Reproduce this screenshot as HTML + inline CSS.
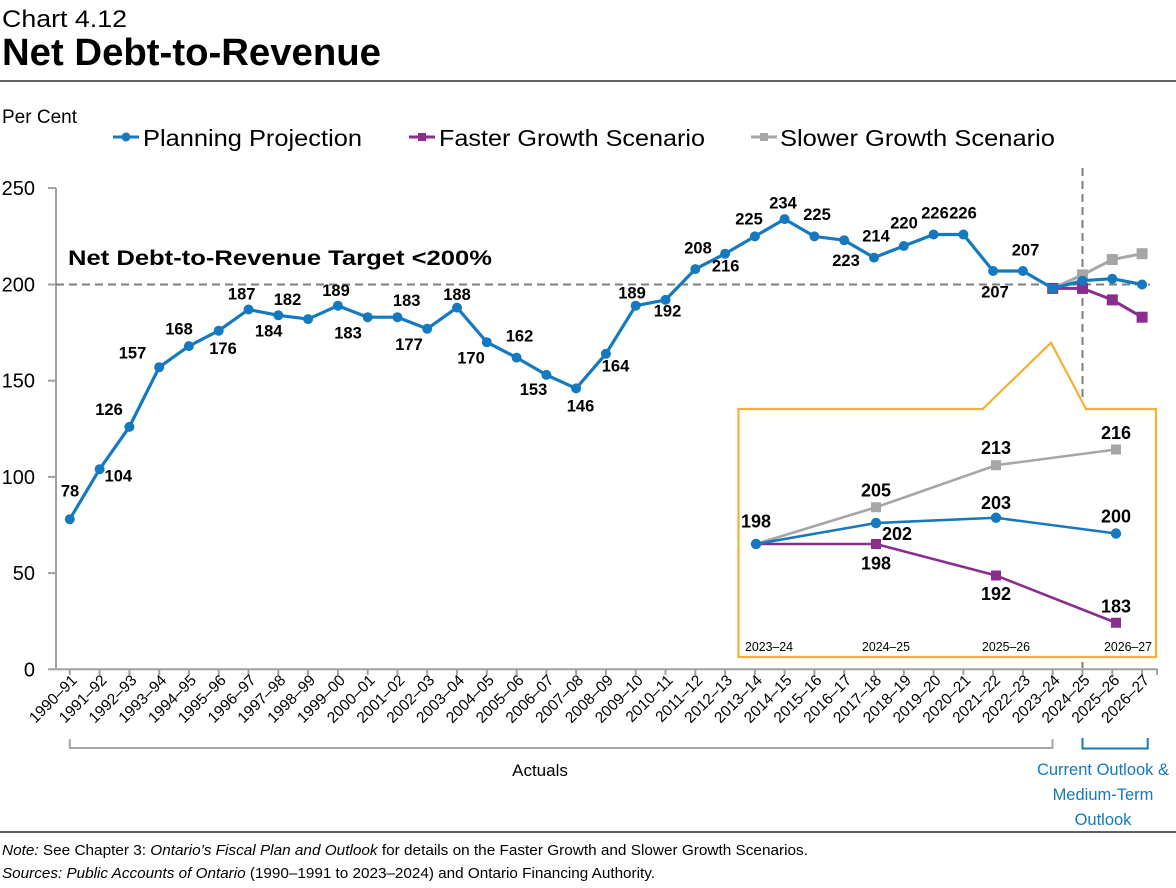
<!DOCTYPE html>
<html><head><meta charset="utf-8"><style>
html,body{margin:0;padding:0;background:#fff;}
svg{display:block;font-family:"Liberation Sans",Arial,sans-serif;}
.lb{font-weight:bold;font-size:16.5px;text-anchor:middle;fill:#000;}
.il{font-weight:bold;font-size:18px;text-anchor:middle;fill:#000;}
.xl{font-size:15.5px;text-anchor:end;dominant-baseline:central;fill:#000;}
.yl{font-size:20px;text-anchor:end;fill:#000;}
</style></head><body>
<svg width="1176" height="888" viewBox="0 0 1176 888" xmlns="http://www.w3.org/2000/svg">
<rect width="1176" height="888" fill="#fff"/>
<!-- Titles -->
<text x="2" y="27" font-size="24" textLength="125" lengthAdjust="spacingAndGlyphs">Chart 4.12</text>
<text x="2" y="65" font-size="38" font-weight="bold" textLength="379" lengthAdjust="spacingAndGlyphs">Net Debt-to-Revenue</text>
<line x1="0" y1="81" x2="1176" y2="81" stroke="#000" stroke-width="1.3"/>
<text x="2" y="123" font-size="19" textLength="75" lengthAdjust="spacingAndGlyphs">Per Cent</text>

<!-- Legend -->
<line x1="113" y1="137" x2="139" y2="137" stroke="#1479BE" stroke-width="3"/>
<circle cx="126" cy="137" r="4.5" fill="#1479BE"/>
<text x="143" y="146" font-size="23" textLength="219" lengthAdjust="spacingAndGlyphs">Planning Projection</text>
<line x1="409" y1="137" x2="435" y2="137" stroke="#8B2C8F" stroke-width="3"/>
<rect x="418" y="133" width="8" height="8" fill="#8B2C8F"/>
<text x="439" y="146" font-size="23" textLength="266" lengthAdjust="spacingAndGlyphs">Faster Growth Scenario</text>
<line x1="751" y1="137" x2="777" y2="137" stroke="#A6A6A6" stroke-width="3"/>
<rect x="760" y="133" width="8" height="8" fill="#A6A6A6"/>
<text x="780" y="146" font-size="23" textLength="275" lengthAdjust="spacingAndGlyphs">Slower Growth Scenario</text>

<!-- Y axis -->
<line x1="56" y1="188" x2="56" y2="669.3" stroke="#A0A0A0" stroke-width="2"/>
<g stroke="#A0A0A0" stroke-width="2">
<line x1="48" y1="188" x2="56" y2="188"/>
<line x1="48" y1="284.5" x2="56" y2="284.5"/>
<line x1="48" y1="380.7" x2="56" y2="380.7"/>
<line x1="48" y1="476.9" x2="56" y2="476.9"/>
<line x1="48" y1="573.1" x2="56" y2="573.1"/>
</g>
<text class="yl" x="35" y="195">250</text>
<text class="yl" x="35" y="291.5">200</text>
<text class="yl" x="35" y="387.7">150</text>
<text class="yl" x="35" y="483.9">100</text>
<text class="yl" x="35" y="580.1">50</text>
<text class="yl" x="35" y="676.3">0</text>

<!-- X axis -->
<line x1="48" y1="669.3" x2="1157" y2="669.3" stroke="#A0A0A0" stroke-width="2"/>
<path stroke="#A0A0A0" stroke-width="2" d="M69.8 669v6M99.6 669v6M129.4 669v6M159.2 669v6M188.9 669v6M218.7 669v6M248.5 669v6M278.3 669v6M308.1 669v6M337.9 669v6M367.7 669v6M397.4 669v6M427.2 669v6M457 669v6M486.8 669v6M516.6 669v6M546.4 669v6M576.1 669v6M605.9 669v6M635.7 669v6M665.5 669v6M695.3 669v6M725.1 669v6M754.9 669v6M784.6 669v6M814.4 669v6M844.2 669v6M874 669v6M903.8 669v6M933.6 669v6M963.4 669v6M993.1 669v6M1022.9 669v6M1052.7 669v6M1082.5 669v6M1112.3 669v6M1142.1 669v6M1157 669v6"/>

<g class="xl">
<text class="xl" transform="translate(74.8,678) rotate(-45)">1990–91</text>
<text class="xl" transform="translate(104.6,678) rotate(-45)">1991–92</text>
<text class="xl" transform="translate(134.4,678) rotate(-45)">1992–93</text>
<text class="xl" transform="translate(164.2,678) rotate(-45)">1993–94</text>
<text class="xl" transform="translate(193.9,678) rotate(-45)">1994–95</text>
<text class="xl" transform="translate(223.7,678) rotate(-45)">1995–96</text>
<text class="xl" transform="translate(253.5,678) rotate(-45)">1996–97</text>
<text class="xl" transform="translate(283.3,678) rotate(-45)">1997–98</text>
<text class="xl" transform="translate(313.1,678) rotate(-45)">1998–99</text>
<text class="xl" transform="translate(342.9,678) rotate(-45)">1999–00</text>
<text class="xl" transform="translate(372.7,678) rotate(-45)">2000–01</text>
<text class="xl" transform="translate(402.4,678) rotate(-45)">2001–02</text>
<text class="xl" transform="translate(432.2,678) rotate(-45)">2002–03</text>
<text class="xl" transform="translate(462,678) rotate(-45)">2003–04</text>
<text class="xl" transform="translate(491.8,678) rotate(-45)">2004–05</text>
<text class="xl" transform="translate(521.6,678) rotate(-45)">2005–06</text>
<text class="xl" transform="translate(551.4,678) rotate(-45)">2006–07</text>
<text class="xl" transform="translate(581.1,678) rotate(-45)">2007–08</text>
<text class="xl" transform="translate(610.9,678) rotate(-45)">2008–09</text>
<text class="xl" transform="translate(640.7,678) rotate(-45)">2009–10</text>
<text class="xl" transform="translate(670.5,678) rotate(-45)">2010–11</text>
<text class="xl" transform="translate(700.3,678) rotate(-45)">2011–12</text>
<text class="xl" transform="translate(730.1,678) rotate(-45)">2012–13</text>
<text class="xl" transform="translate(759.9,678) rotate(-45)">2013–14</text>
<text class="xl" transform="translate(789.6,678) rotate(-45)">2014–15</text>
<text class="xl" transform="translate(819.4,678) rotate(-45)">2015–16</text>
<text class="xl" transform="translate(849.2,678) rotate(-45)">2016–17</text>
<text class="xl" transform="translate(879,678) rotate(-45)">2017–18</text>
<text class="xl" transform="translate(908.8,678) rotate(-45)">2018–19</text>
<text class="xl" transform="translate(938.6,678) rotate(-45)">2019–20</text>
<text class="xl" transform="translate(968.4,678) rotate(-45)">2020–21</text>
<text class="xl" transform="translate(998.1,678) rotate(-45)">2021–22</text>
<text class="xl" transform="translate(1027.9,678) rotate(-45)">2022–23</text>
<text class="xl" transform="translate(1057.7,678) rotate(-45)">2023–24</text>
<text class="xl" transform="translate(1087.5,678) rotate(-45)">2024–25</text>
<text class="xl" transform="translate(1117.3,678) rotate(-45)">2025–26</text>
<text class="xl" transform="translate(1147.1,678) rotate(-45)">2026–27</text>
</g>

<!-- Reference lines -->
<line x1="56" y1="284.5" x2="1150" y2="284.5" stroke="#7F7F7F" stroke-width="2" stroke-dasharray="8,5"/>
<line x1="1082.5" y1="168" x2="1082.5" y2="668" stroke="#7F7F7F" stroke-width="2" stroke-dasharray="8,5"/>
<text x="68" y="265" font-size="21" font-weight="bold" textLength="424" lengthAdjust="spacingAndGlyphs">Net Debt-to-Revenue Target &lt;200%</text>

<!-- Scenario series (main) -->
<polyline fill="none" stroke="#A6A6A6" stroke-width="3" points="1052.7,288.4 1082.5,274.9 1112.3,259.5 1142.1,253.7"/>
<g fill="#A6A6A6">
<rect x="1077" y="269.4" width="11" height="11"/>
<rect x="1106.8" y="254" width="11" height="11"/>
<rect x="1136.6" y="248.2" width="11" height="11"/>
</g>
<polyline fill="none" stroke="#8B2C8F" stroke-width="3" points="1052.7,288.4 1082.5,288.4 1112.3,299.9 1142.1,317.2"/>
<g fill="#8B2C8F">
<rect x="1047.2" y="282.9" width="11" height="11"/>
<rect x="1077" y="282.9" width="11" height="11"/>
<rect x="1106.8" y="294.4" width="11" height="11"/>
<rect x="1136.6" y="311.7" width="11" height="11"/>
</g>

<!-- Planning projection -->
<polyline fill="none" stroke="#1479BE" stroke-width="3.2" stroke-linejoin="round" points="69.8,519.2 99.6,469.2 129.4,426.9 159.2,367.2 188.9,346.1 218.7,330.7 248.5,309.5 278.3,315.3 308.1,319.1 337.9,305.7 367.7,317.2 397.4,317.2 427.2,328.8 457,307.6 486.8,342.2 516.6,357.6 546.4,374.9 576.1,388.4 605.9,353.8 635.7,305.7 665.5,299.9 695.3,269.1 725.1,253.7 754.9,236.4 784.6,219.1 814.4,236.4 844.2,240.2 874,257.6 903.8,246 933.6,234.5 963.4,234.5 993.1,271 1022.9,271 1052.7,288.4 1082.5,280.7 1112.3,278.7 1142.1,284.5"/>
<g fill="#1479BE">
<circle cx="69.8" cy="519.2" r="5"/><circle cx="99.6" cy="469.2" r="5"/><circle cx="129.4" cy="426.9" r="5"/><circle cx="159.2" cy="367.2" r="5"/><circle cx="188.9" cy="346.1" r="5"/><circle cx="218.7" cy="330.7" r="5"/><circle cx="248.5" cy="309.5" r="5"/><circle cx="278.3" cy="315.3" r="5"/><circle cx="308.1" cy="319.1" r="5"/><circle cx="337.9" cy="305.7" r="5"/><circle cx="367.7" cy="317.2" r="5"/><circle cx="397.4" cy="317.2" r="5"/><circle cx="427.2" cy="328.8" r="5"/><circle cx="457" cy="307.6" r="5"/><circle cx="486.8" cy="342.2" r="5"/><circle cx="516.6" cy="357.6" r="5"/><circle cx="546.4" cy="374.9" r="5"/><circle cx="576.1" cy="388.4" r="5"/><circle cx="605.9" cy="353.8" r="5"/><circle cx="635.7" cy="305.7" r="5"/><circle cx="665.5" cy="299.9" r="5"/><circle cx="695.3" cy="269.1" r="5"/><circle cx="725.1" cy="253.7" r="5"/><circle cx="754.9" cy="236.4" r="5"/><circle cx="784.6" cy="219.1" r="5"/><circle cx="814.4" cy="236.4" r="5"/><circle cx="844.2" cy="240.2" r="5"/><circle cx="874" cy="257.6" r="5"/><circle cx="903.8" cy="246" r="5"/><circle cx="933.6" cy="234.5" r="5"/><circle cx="963.4" cy="234.5" r="5"/><circle cx="993.1" cy="271" r="5"/><circle cx="1022.9" cy="271" r="5"/>
<rect x="1048.2" y="283.9" width="9" height="9"/>
<circle cx="1082.5" cy="280.7" r="5"/><circle cx="1112.3" cy="278.7" r="5"/><circle cx="1142.1" cy="284.5" r="5"/>
</g>

<!-- Data labels -->
<g class="lb">
<text class="lb" x="70" y="496.7">78</text>
<text class="lb" x="118.3" y="481.7">104</text>
<text class="lb" x="109" y="415">126</text>
<text class="lb" x="132.5" y="358.3">157</text>
<text class="lb" x="179" y="334.3">168</text>
<text class="lb" x="223" y="354">176</text>
<text class="lb" x="241.7" y="299.3">187</text>
<text class="lb" x="268.7" y="336.5">184</text>
<text class="lb" x="287.5" y="305">182</text>
<text class="lb" x="336" y="296">189</text>
<text class="lb" x="348" y="338.3">183</text>
<text class="lb" x="406.7" y="306">183</text>
<text class="lb" x="409" y="350">177</text>
<text class="lb" x="457" y="300">188</text>
<text class="lb" x="471" y="363.3">170</text>
<text class="lb" x="519.5" y="341.7">162</text>
<text class="lb" x="533.5" y="395">153</text>
<text class="lb" x="580.5" y="411.5">146</text>
<text class="lb" x="615.5" y="371.7">164</text>
<text class="lb" x="632" y="298.3">189</text>
<text class="lb" x="667.5" y="316.5">192</text>
<text class="lb" x="698" y="253.3">208</text>
<text class="lb" x="725.7" y="271.7">216</text>
<text class="lb" x="749" y="224.3">225</text>
<text class="lb" x="783" y="208.3">234</text>
<text class="lb" x="817" y="220">225</text>
<text class="lb" x="846" y="266">223</text>
<text class="lb" x="876" y="241.7">214</text>
<text class="lb" x="904" y="228.3">220</text>
<text class="lb" x="935" y="218.3">226</text>
<text class="lb" x="963" y="218.3">226</text>
<text class="lb" x="1025.5" y="255.7">207</text>
<text class="lb" x="995" y="297.3">207</text>
</g>

<!-- Inset -->
<path d="M738.5 409 H982.7 L1051 342.7 L1086 409 H1156 V657 H738.5 Z" fill="#fff" stroke="#F2B134" stroke-width="2.2" stroke-linejoin="miter"/>
<polyline fill="none" stroke="#A6A6A6" stroke-width="2.6" points="756,544 876,507.25 996,465.25 1116,449.5"/>
<g fill="#A6A6A6">
<rect x="871" y="502.25" width="10" height="10"/>
<rect x="991" y="460.25" width="10" height="10"/>
<rect x="1111" y="444.5" width="10" height="10"/>
</g>
<polyline fill="none" stroke="#8B2C8F" stroke-width="2.6" points="756,544 876,544 996,575.5 1116,622.75"/>
<g fill="#8B2C8F">
<rect x="871" y="539" width="10" height="10"/>
<rect x="991" y="570.5" width="10" height="10"/>
<rect x="1111" y="617.75" width="10" height="10"/>
</g>
<polyline fill="none" stroke="#1479BE" stroke-width="2.6" points="756,544 876,523 996,517.75 1116,533.5"/>
<g fill="#1479BE">
<circle cx="756" cy="544" r="5.2"/>
<circle cx="876" cy="523" r="5.2"/>
<circle cx="996" cy="517.75" r="5.2"/>
<circle cx="1116" cy="533.5" r="5.2"/>
</g>
<g class="il">
<text class="il" x="756" y="527.7">198</text>
<text class="il" x="876" y="496.7">205</text>
<text class="il" x="897" y="540">202</text>
<text class="il" x="876" y="569.3">198</text>
<text class="il" x="996" y="454">213</text>
<text class="il" x="996" y="509">203</text>
<text class="il" x="996" y="600">192</text>
<text class="il" x="1116" y="439">216</text>
<text class="il" x="1116" y="522.7">200</text>
<text class="il" x="1116" y="612.7">183</text>
</g>
<g font-size="12.5">
<text x="745" y="651" textLength="48" lengthAdjust="spacingAndGlyphs">2023–24</text>
<text x="862" y="651" textLength="48" lengthAdjust="spacingAndGlyphs">2024–25</text>
<text x="982" y="651" textLength="48" lengthAdjust="spacingAndGlyphs">2025–26</text>
<text x="1104" y="651" textLength="48" lengthAdjust="spacingAndGlyphs">2026–27</text>
</g>

<!-- Brackets -->
<path d="M69.8 739 V748 H1052.5 V739" fill="none" stroke="#A6A6A6" stroke-width="2"/>
<text x="540" y="776" font-size="17" text-anchor="middle">Actuals</text>
<path d="M1082.5 738 V748.5 H1147.7 V738" fill="none" stroke="#1479BE" stroke-width="2"/>
<g fill="#1479BE" font-size="16.5" text-anchor="middle">
<text x="1103" y="775">Current Outlook &amp;</text>
<text x="1103" y="800">Medium-Term</text>
<text x="1103" y="825">Outlook</text>
</g>

<!-- Footer -->
<line x1="0" y1="832" x2="1176" y2="832" stroke="#000" stroke-width="1.3"/>
<text x="2" y="855" font-size="15" textLength="806" lengthAdjust="spacingAndGlyphs"><tspan font-style="italic">Note:</tspan> See Chapter 3: <tspan font-style="italic">Ontario’s Fiscal Plan and Outlook</tspan> for details on the Faster Growth and Slower Growth Scenarios.</text>
<text x="2" y="878" font-size="15" textLength="653" lengthAdjust="spacingAndGlyphs"><tspan font-style="italic">Sources: Public Accounts of Ontario</tspan> (1990–1991 to 2023–2024) and Ontario Financing Authority.</text>
</svg>
</body></html>
